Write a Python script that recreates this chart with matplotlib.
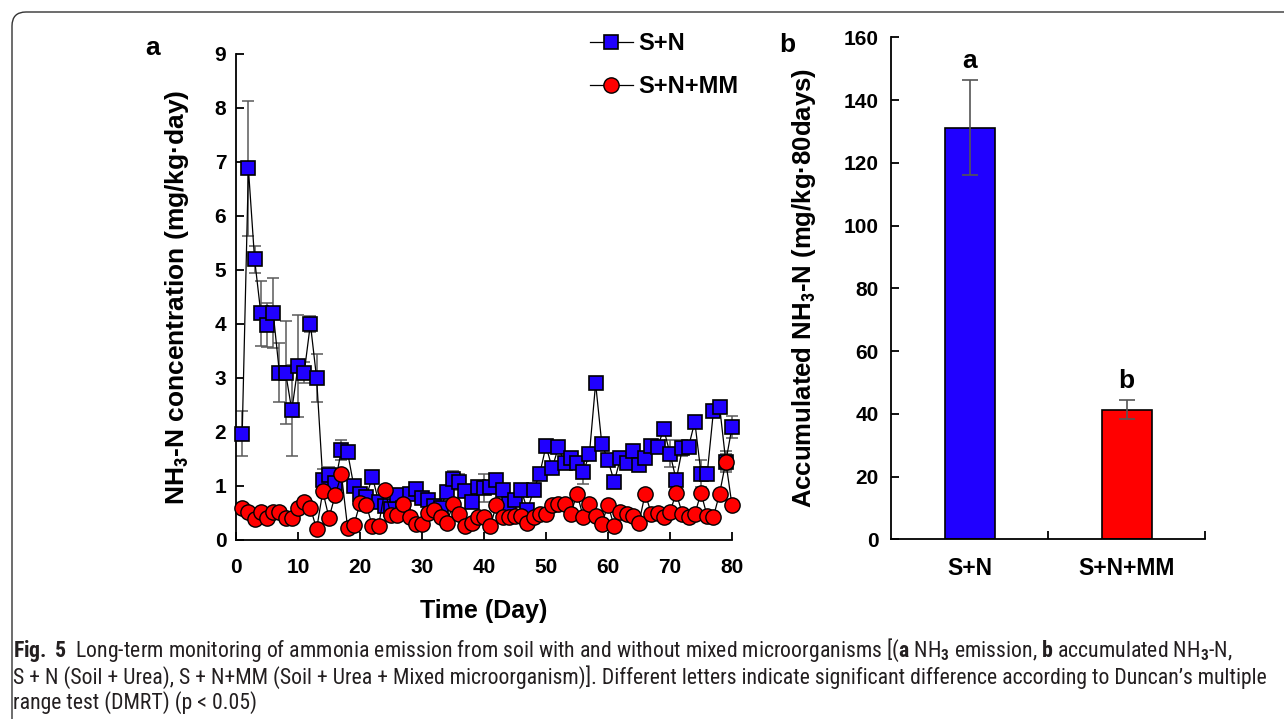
import matplotlib.pyplot as plt
import numpy as np
from matplotlib import font_manager
from matplotlib.lines import Line2D
from matplotlib.patches import FancyBboxPatch
from matplotlib.transforms import IdentityTransform

# ---- data ----
days = np.arange(1, 81)
sn = [1.97, 6.88, 5.20, 4.20, 3.98, 4.20, 3.10, 3.10, 2.40, 3.22,
      3.10, 4.00, 3.00, 1.11, 1.20, 1.06, 1.67, 1.62, 1.00, 0.86,
      0.80, 1.17, 0.71, 0.62, 0.58, 0.84, 0.60, 0.85, 0.95, 0.78,
      0.74, 0.62, 0.60, 0.88, 1.12, 1.08, 0.90, 0.70, 0.98, 0.96,
      0.98, 1.11, 0.93, 0.66, 0.74, 0.92, 0.56, 0.92, 1.23, 1.74,
      1.33, 1.72, 1.42, 1.51, 1.42, 1.25, 1.59, 2.90, 1.78, 1.48,
      1.08, 1.51, 1.42, 1.64, 1.39, 1.51, 1.74, 1.73, 2.05, 1.60,
      1.11, 1.70, 1.73, 2.19, 1.23, 1.23, 2.38, 2.47, 1.45, 2.09]
sn_err = [0.41, 1.25, 0.25, 0.60, 0.40, 0.65, 0.55, 0.95, 0.84, 0.95,
          0.20, 0.15, 0.45, 0.20, 0.15, 0.10, 0.19, 0.10, 0.10, 0.10,
          0.10, 0.10, 0.10, 0.10, 0.10, 0.10, 0.10, 0.10, 0.10, 0.10,
          0.10, 0.10, 0.10, 0.10, 0.15, 0.15, 0.10, 0.10, 0.10, 0.26,
          0.10, 0.10, 0.10, 0.10, 0.10, 0.10, 0.10, 0.10, 0.10, 0.10,
          0.10, 0.10, 0.10, 0.10, 0.10, 0.22, 0.10, 0.10, 0.10, 0.10,
          0.10, 0.10, 0.10, 0.10, 0.10, 0.10, 0.10, 0.10, 0.10, 0.25,
          0.10, 0.15, 0.10, 0.10, 0.25, 0.10, 0.10, 0.10, 0.20, 0.20]
snmm = [0.60, 0.52, 0.38, 0.52, 0.40, 0.51, 0.51, 0.40, 0.40, 0.60,
        0.71, 0.60, 0.20, 0.90, 0.41, 0.83, 1.22, 0.23, 0.27, 0.68,
        0.65, 0.26, 0.26, 0.93, 0.46, 0.46, 0.66, 0.43, 0.29, 0.30,
        0.50, 0.55, 0.43, 0.32, 0.66, 0.48, 0.25, 0.31, 0.43, 0.43,
        0.25, 0.65, 0.43, 0.43, 0.44, 0.45, 0.32, 0.42, 0.49, 0.48,
        0.64, 0.67, 0.66, 0.48, 0.86, 0.43, 0.67, 0.44, 0.30, 0.65,
        0.25, 0.52, 0.49, 0.44, 0.32, 0.86, 0.48, 0.50, 0.43, 0.52,
        0.87, 0.48, 0.42, 0.48, 0.87, 0.44, 0.43, 0.86, 1.45, 0.64]
snmm_err = [0.05] * 78 + [0.15, 0.05]

groups = ['S+N', 'S+N+MM']
acc = [131.2, 41.3]
acc_err = [15.1, 3.0]
letters = ['a', 'b']

BLUE = '#2000ff'
RED = '#ff0000'

names = {f.name for f in font_manager.fontManager.ttflist}
cap_font = next((n for n in ['Liberation Sans Narrow', 'Roboto Condensed',
                             'Open Sans Condensed'] if n in names), 'Liberation Sans')

plt.rcParams['font.family'] = ['Liberation Sans', 'DejaVu Sans']
plt.rcParams['font.weight'] = 'bold'
plt.rcParams['mathtext.fontset'] = 'custom'
plt.rcParams['mathtext.rm'] = cap_font
plt.rcParams['mathtext.bf'] = cap_font + ':bold'
plt.rcParams['mathtext.it'] = cap_font + ':italic'

fig = plt.figure(figsize=(12.84, 7.19), dpi=100)

# ---- panel a ----
ax = fig.add_axes([0.1838, 0.249, 0.3863, 0.676])
ax.errorbar(days, sn, yerr=sn_err, fmt='none', ecolor='#5a5a5a',
            elinewidth=1.1, capsize=4, capthick=1.1, zorder=1, clip_on=False)
ax.errorbar(days, snmm, yerr=snmm_err, fmt='none', ecolor='#5a5a5a',
            elinewidth=1.1, capsize=4, capthick=1.1, zorder=1, clip_on=False)
ax.plot(days, sn, color='black', lw=0.9, marker='s', ms=10.5, mfc=BLUE,
        mec='black', mew=1.2, zorder=3, clip_on=False)
ax.plot(days, snmm, color='black', lw=0.9, marker='o', ms=11, mfc=RED,
        mec='black', mew=1.0, zorder=4, clip_on=False)
ax.set_xlim(0, 80)
ax.set_ylim(0, 9)
ax.set_xticks(range(0, 81, 10))
ax.set_yticks(range(0, 10))
ax.spines[['top', 'right']].set_visible(False)
ax.spines[['left', 'bottom']].set_linewidth(1.3)
ax.tick_params(axis='both', direction='in', length=6, width=1.3, labelsize=15)
ax.tick_params(axis='x', pad=13)
ax.tick_params(axis='y', pad=7)
ax.set_xlabel('Time (Day)', fontsize=18, fontweight='bold', labelpad=16)
ax.set_ylabel(r'NH$_\mathbf{3}$-N concentration (mg/kg·day)', fontsize=19,
              fontweight='bold', labelpad=17)

handles = [Line2D([], [], color='black', lw=0.9, marker='s', ms=10.5, mfc=BLUE,
                  mec='black', mew=1.2),
           Line2D([], [], color='black', lw=0.9, marker='o', ms=11, mfc=RED,
                  mec='black', mew=1.0)]
leg = fig.legend(handles, groups, loc='upper left', bbox_to_anchor=(0.443, 0.985),
                 frameon=False, prop={'size': 17, 'weight': 'bold'},
                 handlelength=1.8, handletextpad=0.25, labelspacing=0.85)

fig.text(153 / 1284, 1 - 48 / 719, 'a', fontsize=19, fontweight='bold',
         ha='center', va='center')
fig.text(787 / 1284, 1 - 45 / 719, 'b', fontsize=19, fontweight='bold',
         ha='center', va='center')

# ---- panel b ----
ax2 = fig.add_axes([0.6943, 0.2499, 0.2442, 0.698])
x = np.arange(len(groups))
ax2.bar(x, acc, width=0.32, color=[BLUE, RED], edgecolor='black', linewidth=1.2,
        yerr=acc_err, error_kw=dict(ecolor='#555555', elinewidth=1.2, capsize=6,
                                    capthick=1.2), zorder=2)
for i in x:
    ax2.text(i, acc[i] + acc_err[i] + 2.5, letters[i], ha='center', va='bottom',
             fontsize=19, fontweight='bold')
ax2.set_xlim(-0.5, 1.5)
ax2.set_ylim(0, 160)
ax2.set_yticks(range(0, 161, 20))
ax2.set_xticks(x)
ax2.set_xticklabels(groups)
ax2.set_xticks([0.5, 1.5], minor=True)
ax2.spines[['top', 'right']].set_visible(False)
ax2.spines[['left', 'bottom']].set_linewidth(1.3)
ax2.tick_params(axis='y', direction='in', length=6, width=1.3, labelsize=15, pad=9)
ax2.tick_params(axis='x', which='major', length=0, labelsize=16.5, pad=13)
ax2.tick_params(axis='x', which='minor', direction='in', length=6, width=1.3)
ax2.set_ylabel(r'Accumulated NH$_\mathbf{3}$-N (mg/kg·80days)', fontsize=18.5,
               fontweight='bold', labelpad=19)

# ---- caption ----
lines = [
    r'$\mathbf{Fig.\ 5}$  Long-term monitoring of ammonia emission from soil with and '
    r'without mixed microorganisms [($\mathbf{a}$ NH$_3$ emission, $\mathbf{b}$ '
    r'accumulated NH$_3$-N,',
    'S + N (Soil + Urea), S + N+MM (Soil + Urea + Mixed microorganism)]. Different '
    'letters indicate significant difference according to Duncan’s multiple',
    'range test (DMRT) (p < 0.05)',
]
ys = [650, 677, 703]
caps = [fig.text(13 / 1284, 1 - yy / 719, s, fontsize=13, fontweight='normal',
                 family=[cap_font, 'DejaVu Sans'], color='#231f20',
                 ha='left', va='center') for s, yy in zip(lines, ys)]
r = fig.canvas.get_renderer()
w = max(t.get_window_extent(r).width for t in caps[:2])
fs = 13 * 1252 / w
for t in caps:
    t.set_fontsize(fs)

# rounded frame around the figure
frame = FancyBboxPatch((12, -60), 1400, 719 - 12 + 60,
                       boxstyle='round,pad=0,rounding_size=14',
                       transform=IdentityTransform(), fill=False,
                       edgecolor='#333333', lw=1.0)
fig.add_artist(frame)

fig.savefig('out.png', dpi=100)
